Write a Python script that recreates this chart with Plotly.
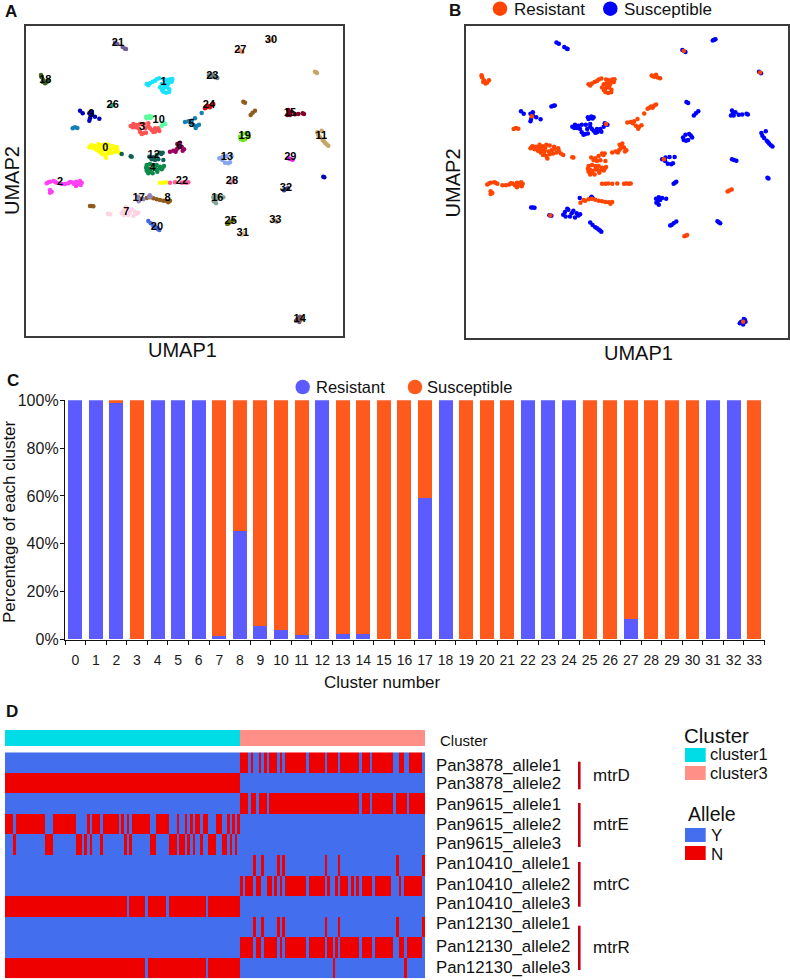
import plotly.graph_objects as go

W, H = 790, 980
FONT = "Liberation Sans"

# ---------- Panel A/B : UMAP embedding, one pair of arrays per cluster ----------
c0_u1 = [268,275,285,295,305,315,325,338,350,352,345,335,325,315,318,305,298,310,290,300,330,358,280,272,322,340,308,296,312,480,490,498]
c0_u2 = [442,436,438,432,436,432,434,438,442,450,455,458,460,465,473,462,455,448,450,445,448,458,445,438,452,444,456,440,440,548,548,547]
c1_u1 = [440,450,458,470,478,492,500,510,517,515,505,495,485,480,490,500,508,490,498,507,445,465,502,512,486,494]
c1_u2 = [252,250,245,238,235,238,240,238,237,245,250,248,252,262,265,262,268,275,278,276,256,242,256,242,270,256]
c2_u1 = [140,150,160,170,185,205,215,228,240,245,235,228,150,150,145,155,165,222,232,242,210,195]
c2_u2 = [550,545,543,548,552,550,547,545,543,548,552,558,570,578,547,575,545,552,548,555,546,552]
c3_u1 = [392,400,410,420,415,405,432,445,420,430,438,455,465,475,478,465,445,450,398,425,470,460,436]
c3_u2 = [378,372,375,372,385,382,372,370,395,400,398,390,385,385,393,395,378,385,382,402,390,396,385]
c4_u1 = [440,450,460,470,480,492,485,470,460,450,440,445,458,472,438,465,478,444,452,488]
c4_u2 = [495,492,495,495,500,498,508,510,505,510,512,520,520,515,503,500,505,505,516,503]
c5_u1 = [555,565,575,585,580,590,597,587,605,225,218,232,571]
c5_u2 = [366,364,362,355,375,378,374,384,339,382,385,384,368]
c6_u1 = [510,520,530,532,540,545,552,535,527,538,548]
c6_u2 = [455,452,448,432,428,440,448,443,455,436,452]
c7_u1 = [327,324,330,370,380,395,405,415,385,372,365,400,377,390,410]
c7_u2 = [642,641,643,632,625,628,635,638,645,645,640,648,622,635,642]
c8_u1 = [425,440,450,460,470,480,490,500,505,510,275,270,280,730,735,752,758,765]
c8_u2 = [596,594,592,595,598,600,602,603,607,602,618,618,619,305,308,345,338,332]
c9_u1 = [272,240,248,268,275,270,268,285,298,275,970,973]
c9_u2 = [347,332,340,340,345,355,362,350,356,335,530,532]
c10_u1 = [492,488,496,438,448,455,440,444,485,452]
c10_u2 = [370,368,372,350,348,350,355,352,378,354]
c11_u1 = [948,945,951,955,965,968,975,985,960,952,972,980]
c11_u2 = [217,215,219,405,392,420,428,437,412,397,424,433]
c12_u1 = [448,460,470,480,488,475,490,465,392,395,365,455,484]
c12_u2 = [470,472,465,458,458,478,480,480,469,470,462,478,462]
c13_u1 = [663,658,668,675,685,695,690,680,667]
c13_u2 = [475,475,470,488,490,468,487,468,480]
c14_u1 = [898,892,900,905,898,888,903]
c14_u2 = [958,958,950,958,966,962,952]
c15_u1 = [865,870,862,875,885,895,912,908,868]
c15_u2 = [330,345,345,335,343,342,342,340,338]
c16_u1 = [640,648,658,645,648,670,652,641]
c16_u2 = [592,588,590,600,610,592,596,604]
c17_u1 = [416,430,414,449,447,452]
c17_u2 = [604,598,590,586,590,590]
c18_u1 = [123,125,128,135,145,130,124,140]
c18_u2 = [225,232,245,250,240,240,229,247]
c19_u1 = [720,727,738,747,735,722,743,729]
c19_u2 = [410,402,400,410,418,418,404,420]
c20_u1 = [445,452,460,470,478,465,474]
c20_u2 = [663,670,677,684,690,680,687]
c21_u1 = [345,352,368,375,378]
c21_u2 = [128,132,141,146,147]
c22_u1 = [510,525,545,552,560,565]
c22_u2 = [548,547,548,547,548,547]
c23_u1 = [627,635,645,652,640,632]
c23_u2 = [226,230,232,234,224,228]
c24_u1 = [615,625,635,640,620,630]
c24_u2 = [325,318,315,312,322,322]
c25_u1 = [682,692,700,686]
c25_u2 = [672,665,660,670]
c26_u1 = [330,336,340]
c26_u2 = [318,316,315]
c27_u1 = [722,718,727]
c27_u2 = [153,150,156]
c28_u1 = [692,696,700]
c28_u2 = [548,545,542]
c29_u1 = [865,871,878]
c29_u2 = [475,477,479]
c30_u1 = [808,812,816]
c30_u2 = [122,120,118]
c31_u1 = [724,728,732]
c31_u2 = [704,702,700]
c32_u1 = [852,857,864]
c32_u2 = [571,568,565]
c33_u1 = [822,826,830]
c33_u2 = [659,662,665]

cluster_u1 = [c0_u1,c1_u1,c2_u1,c3_u1,c4_u1,c5_u1,c6_u1,c7_u1,c8_u1,c9_u1,c10_u1,c11_u1,c12_u1,c13_u1,c14_u1,c15_u1,c16_u1,c17_u1,
              c18_u1,c19_u1,c20_u1,c21_u1,c22_u1,c23_u1,c24_u1,c25_u1,c26_u1,c27_u1,c28_u1,c29_u1,c30_u1,c31_u1,c32_u1,c33_u1]
cluster_u2 = [c0_u2,c1_u2,c2_u2,c3_u2,c4_u2,c5_u2,c6_u2,c7_u2,c8_u2,c9_u2,c10_u2,c11_u2,c12_u2,c13_u2,c14_u2,c15_u2,c16_u2,c17_u2,
              c18_u2,c19_u2,c20_u2,c21_u2,c22_u2,c23_u2,c24_u2,c25_u2,c26_u2,c27_u2,c28_u2,c29_u2,c30_u2,c31_u2,c32_u2,c33_u2]
cluster_colors = ["#FFFF00","#19E3FF","#FF40F5","#FF5454","#0E8A4C","#1580B4","#A00060","#FFD3E2","#8F5C1E","#0000B4","#5CFFA0","#C8A468",
                  "#0F5F55","#86A6F2","#7A5864","#800028","#84A898","#9284B4","#40641E","#74E41E","#4266E4","#6E6092","#FF5A96","#6E8484",
                  "#D01212","#647412","#20A484","#F09474","#E494A4","#E41EE4","#E4A484","#E0C0A0","#304284","#B0A090"]
# points per cluster that are resistant (listed first in each cluster's arrays)
n_resistant = [32,26,22,0,20,13,11,1,10,1,1,1,13,1,1,0,0,2,8,0,0,0,6,6,6,0,0,1,0,0,0,3,3,0]
cluster_ids = [str(i) for i in range(34)]
label_u1 = [316,491,180,426,458,575,538,379,503,274,476,964,461,681,899,870,652,416,136,734,471,354,546,637,627,692,338,721,696,871,813,728,858,826]
label_u2 = [446,246,547,381,506,372,440,637,596,344,360,408,467,473,957,339,594,596,242,410,681,131,544,228,316,665,315,152,544,473,120,701,565,660]

# ---------- Panel C ----------
resistant_pct = [100,100,98.8,0,100,100,100,1.6,45.5,5.5,4,2,100,2.5,2.5,0,0,59,100,0,0,0,100,100,100,0,0,8.5,0,0,0,100,100,0]
susceptible_pct = [100-v for v in resistant_pct]
pct_ticks = [0, 20, 40, 60, 80, 100]
pct_labels = ["0%", "20%", "40%", "60%", "80%", "100%"]

# ---------- Panel D : N stretches per allele row, column index within each cluster ----------
allele_names = ["Pan3878_allele1","Pan3878_allele2","Pan9615_allele1","Pan9615_allele2","Pan9615_allele3",
                "Pan10410_allele1","Pan10410_allele2","Pan10410_allele3","Pan12130_allele1","Pan12130_allele2","Pan12130_allele3"]
gene_names = ["mtrD","mtrE","mtrC","mtrR"]
n_cluster1_cols = 89
n_cluster3_cols = 70
cluster1_N = [
    [],
    [(0,89)],
    [],
    [(0,3),(4,15),(18,27),(31,32),(33,36),(37,43),(44,45),(46,47),(48,55),(57,62),(65,66),(68,69),(70,71),(72,74),(75,77),(80,82),(84,85),(86,87),(88,89)],
    [(3,4),(15,18),(27,29),(30,31),(32,33),(36,37),(45,46),(47,48),(55,57),(62,65),(66,68),(69,70),(71,72),(74,75),(77,80),(82,84),(85,86),(87,88)],
    [],
    [],
    [(0,46),(47,53),(54,61),(62,76),(77,89)],
    [],
    [],
    [(0,53),(54,76),(77,89)],
]
cluster3_N = [
    [(0,3),(4,5),(7,8),(9,10),(11,14),(15,16),(17,25),(26,32),(33,37),(38,45),(46,49),(50,58),(60,62),(64,69)],
    [],
    [(0,3),(4,6),(7,10),(11,45),(46,49),(50,58),(59,63),(64,70)],
    [],
    [],
    [(5,6),(8,9),(14,15),(16,17),(32,33),(37,38),(59,60),(69,70)],
    [(0,1),(2,5),(6,8),(10,12),(13,14),(15,16),(17,25),(26,32),(33,34),(36,37),(38,41),(42,43),(44,45),(46,50),(51,57),(60,61),(62,69)],
    [],
    [(5,6),(8,9),(14,15),(16,17),(32,33),(37,38),(59,60),(69,70)],
    [(0,5),(6,8),(9,14),(15,16),(17,25),(26,32),(33,35),(36,37),(38,45),(46,50),(51,58),(60,62),(63,69)],
    [(35,36),(62,63)],
]

BLUE_C, ORANGE_C = "#5B5BFF", "#FF5A1E"
BLUE_B, ORANGE_B = "#0000FF", "#FF4500"
HEAT_Y, HEAT_N = "#436EEE", "#EE0000"
CYAN, SALMON = "#00DDE6", "#FF8F87"


def px(x):
    return x / W


def py(y):
    return 1 - y / H


def matrix_row(c1, c3):
    row = [0] * (n_cluster1_cols + n_cluster3_cols)
    for a, b in c1:
        for i in range(a, b):
            row[i] = 1
    for a, b in c3:
        for i in range(a, b):
            row[n_cluster1_cols + i] = 1
    return row


fig = go.Figure()

# Panel A
for i, cid in enumerate(cluster_ids):
    fig.add_trace(go.Scatter(x=cluster_u1[i], y=cluster_u2[i], mode="markers", xaxis="x", yaxis="y", name=cid,
                             showlegend=False, marker=dict(size=4.5, color=cluster_colors[i], line=dict(width=0))))
fig.add_trace(go.Scatter(x=label_u1, y=label_u2, text=cluster_ids, mode="text", xaxis="x", yaxis="y", showlegend=False,
                         textposition="middle center", textfont=dict(family=FONT, size=11, color="#000000", weight="bold")))

# Panel B
res_x, res_y, sus_x, sus_y = [], [], [], []
for i in range(len(cluster_ids)):
    k = n_resistant[i]
    res_x += cluster_u1[i][:k]
    res_y += cluster_u2[i][:k]
    sus_x += cluster_u1[i][k:]
    sus_y += cluster_u2[i][k:]
fig.add_trace(go.Scatter(x=sus_x, y=sus_y, mode="markers", xaxis="x2", yaxis="y2", name="Susceptible", showlegend=False,
                         marker=dict(size=4.5, color=BLUE_B, line=dict(width=0))))
fig.add_trace(go.Scatter(x=res_x, y=res_y, mode="markers", xaxis="x2", yaxis="y2", name="Resistant", showlegend=False,
                         marker=dict(size=4.5, color=ORANGE_B, line=dict(width=0))))

# Panel C
fig.add_trace(go.Bar(x=cluster_ids, y=resistant_pct, xaxis="x3", yaxis="y3", marker=dict(color=BLUE_C, line=dict(width=0)),
                     name="Resistant", showlegend=False, width=0.68))
fig.add_trace(go.Bar(x=cluster_ids, y=susceptible_pct, xaxis="x3", yaxis="y3", marker=dict(color=ORANGE_C, line=dict(width=0)),
                     name="Susceptible", showlegend=False, width=0.68))

# Panel D
z = [matrix_row(a, b) for a, b in zip(cluster1_N, cluster3_N)]
fig.add_trace(go.Heatmap(z=z, y=allele_names, xaxis="x4", yaxis="y4", zmin=0, zmax=1, showscale=False, xgap=0, ygap=0,
                         colorscale=[[0, HEAT_Y], [0.5, HEAT_Y], [0.5, HEAT_N], [1, HEAT_N]]))
fig.add_trace(go.Heatmap(z=[[0] * n_cluster1_cols + [1] * n_cluster3_cols], xaxis="x5", yaxis="y5", zmin=0, zmax=1, showscale=False,
                         colorscale=[[0, CYAN], [0.5, CYAN], [0.5, SALMON], [1, SALMON]]))
# empty trace that keeps the page-wide overlay axes alive for the texts and keys
fig.add_trace(go.Scatter(x=[], y=[], xaxis="x6", yaxis="y6", showlegend=False))

frame = dict(showticklabels=False, ticks="", showgrid=False, zeroline=False, showline=True, mirror=True,
             linecolor="#3A3A3A", linewidth=1.5)
hidden = dict(showticklabels=False, ticks="", showgrid=False, zeroline=False, showline=False)
n_cols = n_cluster1_cols + n_cluster3_cols

fig.update_layout(
    width=W, height=H, margin=dict(l=0, r=0, t=0, b=0, autoexpand=False), paper_bgcolor="white", plot_bgcolor="rgba(0,0,0,0)",
    barmode="stack", font=dict(family=FONT, color="#1A1A1A"), hovermode=False,
    xaxis=dict(domain=[px(25.7), px(343.3)], range=[77, 1030], anchor="y", **frame),
    yaxis=dict(domain=[py(335.7), py(26)], range=[1007, 78], anchor="x", **frame),
    xaxis2=dict(domain=[px(466), px(787.7)], range=[77, 1030], anchor="y2", **frame),
    yaxis2=dict(domain=[py(338.3), py(25.7)], range=[1007, 78], anchor="x2", **frame),
    xaxis3=dict(domain=[px(65), px(764.5)], type="category", anchor="y3", range=[-0.5, 33.5], tickson="boundaries",
                ticks="outside", ticklen=4, tickwidth=1.3, tickcolor="#111", showline=True, linecolor="#111", linewidth=1.3,
                showgrid=False, tickfont=dict(size=14, family=FONT), tickangle=0, dtick=1, ticklabelstandoff=8),
    yaxis3=dict(domain=[py(639.5), py(400.3)], range=[0, 100], anchor="x3", tickvals=pct_ticks, ticktext=pct_labels,
                ticks="outside", ticklen=4, tickwidth=1.3, tickcolor="#111", showline=True, linecolor="#111",
                linewidth=1.3, showgrid=False, zeroline=False, tickfont=dict(size=16, family=FONT), ticklabelstandoff=-2),
    xaxis4=dict(domain=[px(5), px(425.3)], range=[-0.5, n_cols - 0.5], anchor="y4", **hidden),
    yaxis4=dict(domain=[py(978.3), py(752.3)], autorange="reversed", anchor="x4", type="category", **hidden),
    xaxis5=dict(domain=[px(5), px(425.3)], range=[-0.5, n_cols - 0.5], anchor="y5", **hidden),
    yaxis5=dict(domain=[py(746), py(730)], anchor="x5", **hidden),
    xaxis6=dict(domain=[0, 1], range=[0, W], anchor="y6", **hidden),
    yaxis6=dict(domain=[0, 1], range=[H, 0], anchor="x6", **hidden),
)


def note(x, y, text, size, anchor="left", bold=False, angle=0):
    fig.add_annotation(x=x, y=y, xref="x6", yref="y6", text=f"<b>{text}</b>" if bold else text, showarrow=False,
                       xanchor=anchor, yanchor="middle", textangle=angle, font=dict(family=FONT, size=size, color="#111"),
                       borderpad=0, align=anchor)


def circle(cx, cy, d, color):
    fig.add_shape(type="circle", xref="x6", yref="y6", x0=cx - d / 2, x1=cx + d / 2, y0=cy - d / 2, y1=cy + d / 2,
                  fillcolor=color, line=dict(width=0))


def box(x0, y0, x1, y1, color):
    fig.add_shape(type="rect", xref="x6", yref="y6", x0=x0, x1=x1, y0=y0, y1=y1, fillcolor=color, line=dict(width=0))


for text, x, y in [("A", 11, 11), ("B", 455, 10), ("C", 13, 380), ("D", 12, 711)]:
    note(x, y, text, 17, "center", bold=True)

note(182.7, 350, "UMAP1", 20, "center")
note(12, 181, "UMAP2", 20, "center", angle=-90)
note(638, 353, "UMAP1", 20, "center")
note(452.7, 182.7, "UMAP2", 20, "center", angle=-90)

circle(500, 8.7, 14.5, ORANGE_B)
note(513, 9, "Resistant", 17)
circle(610.3, 8.7, 14.5, BLUE_B)
note(623, 9, "Susceptible", 17)

circle(302.7, 387, 14.5, BLUE_C)
note(315, 387, "Resistant", 16.5)
circle(415, 387, 14.5, ORANGE_C)
note(426, 387, "Susceptible", 16.5)
note(9, 522, "Percentage of each cluster", 17, "center", angle=-90)
note(382, 682, "Cluster number", 17, "center")

note(439, 740.7, "Cluster", 15)
allele_y = [765, 783.3, 804, 824.3, 843.3, 863.3, 884.3, 903.3, 923.3, 946, 967.7]
for name, y in zip(allele_names, allele_y):
    note(435, y, name, 16.8)
gene_y = [775, 824, 884, 947]
gene_bar = [(761.7, 789.3), (803, 847), (862, 906.7), (925.7, 970)]
for name, y, (y0, y1) in zip(gene_names, gene_y, gene_bar):
    note(591.7, y, name, 17)
    box(578, y0, 580.6, y1, "#C30015")

note(683.3, 735, "Cluster", 20.5)
box(685, 748, 705.7, 762, CYAN)
box(685, 766, 705.7, 780, SALMON)
note(709, 754, "cluster1", 16.5)
note(709, 773, "cluster3", 16.5)
note(686.7, 814, "Allele", 19.5)
box(685, 828, 705.7, 842, HEAT_Y)
box(685, 846, 705.7, 860, HEAT_N)
note(710, 835, "Y", 17)
note(710, 854, "N", 17)

fig.write_html("out.html", config=dict(displayModeBar=False),
               post_script="document.body.style.margin='0';document.body.style.overflow='hidden';")
